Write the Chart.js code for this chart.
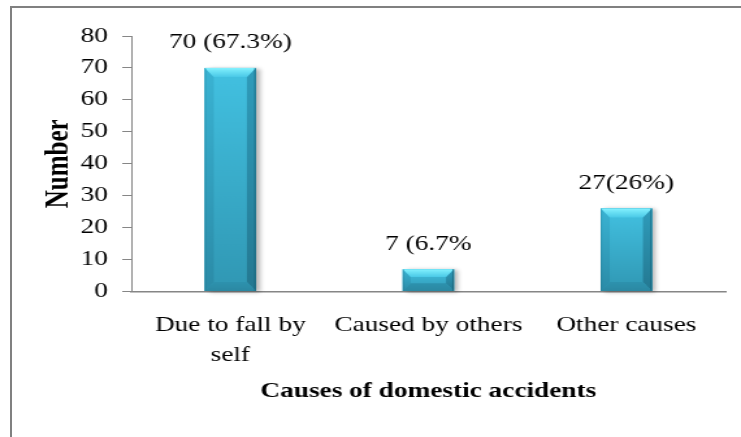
<!DOCTYPE html>
<html>
<head>
<meta charset="utf-8">
<script src="https://cdn.jsdelivr.net/npm/chart.js@4"></script>
<style>
  html, body { margin: 0; padding: 0; background: #ffffff; width: 741px; height: 437px; overflow: hidden; }
  #frame { position: absolute; left: 10px; top: 6px; width: 800px; height: 500px;
           border-left: 2px solid #808080; border-top: 2px solid #808080; box-sizing: border-box; }
  #wrap { position: absolute; left: 0; top: 0; width: 570px; height: 437px;
          transform: scaleX(1.3); transform-origin: 0 0; }
  .pre { font-family: 'Liberation Serif'; position: absolute; left: -999px; top: -999px; }
</style>
</head>
<body>
<div class="pre">Aa 0 <b>Bb</b></div>
<div id="frame"></div>
<div id="wrap"><canvas id="c" width="570" height="437"></canvas></div>
<script>
// ---- data ----
const categories = [['Due to fall by', 'self'], 'Caused by others', 'Other causes'];
const counts = [70, 7, 26];
const barLabels = ['70 (67.3%)', '7 (6.7%', '27(26%)'];
const yMin = 0;
const yMax = 80;
const yStep = 10;
const xTitle = 'Causes of domestic accidents';
const yTitle = 'Number';

const SERIF = "'Liberation Serif', serif";

function poly(ctx, pts, fill) {
  ctx.beginPath();
  ctx.moveTo(pts[0][0], pts[0][1]);
  for (let i = 1; i < pts.length; i++) ctx.lineTo(pts[i][0], pts[i][1]);
  ctx.closePath();
  ctx.fillStyle = fill;
  ctx.fill();
}

const bevelBars = {
  id: 'bevelBars',
  beforeDatasetsDraw(chart) {
    const ctx = chart.ctx;
    chart.getDatasetMeta(0).data.forEach(el => {
      const p = el.getProps(['x', 'y', 'base', 'width'], true);
      const x0 = p.x - p.width / 2, y0 = p.y;
      ctx.save();
      ctx.shadowColor = 'rgba(0,0,0,0.30)';
      ctx.shadowBlur = 4;
      ctx.shadowOffsetX = 3;
      ctx.shadowOffsetY = 1;
      ctx.fillStyle = '#3aaecd';
      ctx.fillRect(x0, y0, p.width, p.base - p.y);
      ctx.restore();
    });
  },
  afterDatasetsDraw(chart) {
    const ctx = chart.ctx;
    const meta = chart.getDatasetMeta(0);
    meta.data.forEach((el, i) => {
      const p = el.getProps(['x', 'y', 'base', 'width'], true);
      const x0 = p.x - p.width / 2, x1 = p.x + p.width / 2;
      const y0 = p.y, y1 = p.base;
      const h = y1 - y0;
      const by = Math.min(9, h * 0.36);
      const bx = by / 1.3;
      ctx.save();
      let g = ctx.createLinearGradient(0, y0, 0, y1);
      g.addColorStop(0, '#42c1e1');
      g.addColorStop(1, '#3097b3');
      ctx.fillStyle = g;
      ctx.fillRect(x0, y0, x1 - x0, h);
      g = ctx.createLinearGradient(0, y0, 0, y1);
      g.addColorStop(0, '#3ab3d3');
      g.addColorStop(1, '#2b8ba7');
      poly(ctx, [[x0, y0], [x0 + bx, y0 + by], [x0 + bx, y1 - by], [x0, y1]], g);
      g = ctx.createLinearGradient(0, y0, 0, y1);
      g.addColorStop(0, '#2f9cbb');
      g.addColorStop(1, '#247891');
      poly(ctx, [[x1, y0], [x1, y1], [x1 - bx, y1 - by], [x1 - bx, y0 + by]], g);
      g = ctx.createLinearGradient(0, y1 - by, 0, y1);
      g.addColorStop(0, '#2d92ae');
      g.addColorStop(1, '#2b88a2');
      poly(ctx, [[x0, y1], [x0 + bx, y1 - by], [x1 - bx, y1 - by], [x1, y1]], g);
      g = ctx.createLinearGradient(0, y0, 0, y0 + by);
      g.addColorStop(0, '#86f2ff');
      g.addColorStop(0.35, '#6ee3f6');
      g.addColorStop(1, '#4ac9e7');
      poly(ctx, [[x0, y0], [x1, y0], [x1 - bx, y0 + by], [x0 + bx, y0 + by]], g);
      ctx.fillStyle = 'rgba(20,90,110,0.55)';
      ctx.fillRect(x1 - 1.2, y0, 1.2, h);
      ctx.fillStyle = 'rgba(20,90,110,0.25)';
      ctx.fillRect(x0, y0, 0.9, h);
      ctx.restore();

      ctx.save();
      ctx.font = "21px 'Liberation Serif', serif";
      ctx.fillStyle = '#000000';
      ctx.textAlign = 'center';
      ctx.textBaseline = 'middle';
      ctx.fillText(barLabels[i], p.x, p.y - 25);
      ctx.restore();
    });
  }
};

function build() {
  Chart.defaults.font.family = SERIF;
  new Chart(document.getElementById('c'), {
    type: 'bar',
    data: {
      labels: categories,
      datasets: [{
        data: counts,
        backgroundColor: '#3cb7d7',
        borderWidth: 0,
        barPercentage: 0.258,
        categoryPercentage: 1.0
      }]
    },
    options: {
      responsive: false,
      animation: false,
      events: [],
      layout: { padding: { top: 36, right: 12, left: 0, bottom: 0 } },
      plugins: {
        legend: { display: false },
        tooltip: { enabled: false },
        title: { display: false }
      },
      scales: {
        x: {
          offset: true,
          grid: { display: false, drawTicks: false, tickLength: 0 },
          border: { display: true, color: '#868686', width: 1.6 },
          ticks: {
            color: '#000000',
            padding: 18.5,
            maxRotation: 0,
            autoSkip: false,
            font: { family: SERIF, size: 21, lineHeight: 30 / 21 }
          },
          title: {
            display: true,
            text: xTitle,
            color: '#000000',
            font: { family: SERIF, size: 21, weight: 'bold' },
            padding: { top: 0, bottom: 32.4 }
          },
          afterFit: s => { s.height = 145.5; }
        },
        y: {
          min: yMin,
          max: yMax,
          grid: { display: true, drawOnChartArea: false, drawTicks: true, tickLength: 7, color: '#868686', lineWidth: 1 },
          border: { display: true, color: '#868686', width: 1 },
          ticks: {
            stepSize: yStep,
            color: '#000000',
            padding: 11,
            font: { family: SERIF, size: 21 }
          },
          title: {
            display: true,
            text: yTitle,
            color: '#000000',
            font: { family: SERIF, size: 25, weight: 'bold' },
            padding: { top: 31, bottom: 0 }
          },
          afterFit: s => { s.width = 101; }
        }
      }
    },
    plugins: [bevelBars]
  });
}

Promise.all([
  document.fonts.load("21px 'Liberation Serif'"),
  document.fonts.load("bold 21px 'Liberation Serif'")
]).then(build, build);
</script>
</body>
</html>
